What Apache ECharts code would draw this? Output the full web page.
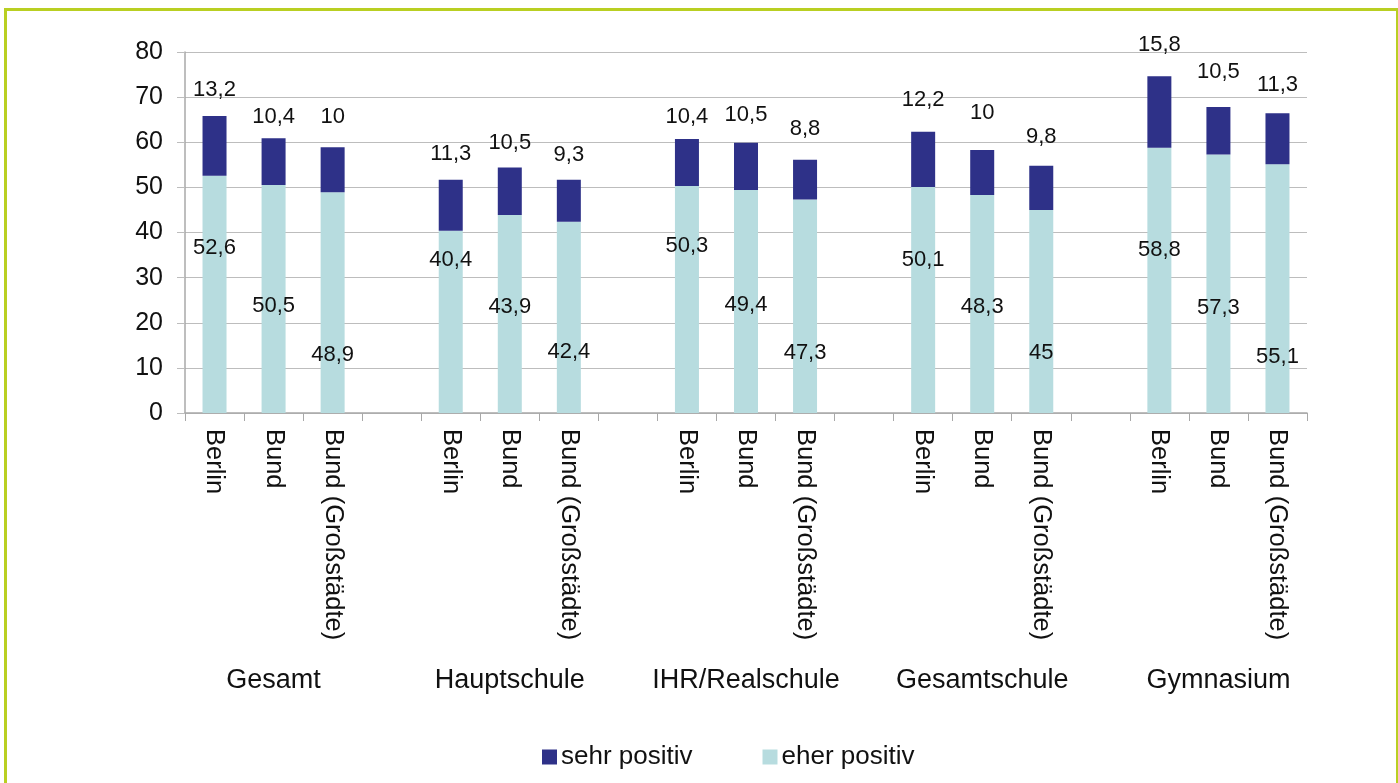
<!DOCTYPE html>
<html>
<head>
<meta charset="utf-8">
<script src="https://cdn.jsdelivr.net/npm/echarts@6/dist/echarts.min.js"></script>
<style>
  html, body { margin: 0; padding: 0; background: #ffffff; overflow: hidden; }
  #frame {
    position: absolute; left: 4px; top: 8px; width: 1389px; height: 800px;
    border: 3px solid #b9cf22; border-bottom: none;
  }
  #chart { position: absolute; left: 0; top: 0; width: 1398px; height: 783px; }
</style>
</head>
<body>
<div id="frame"></div>
<div id="chart"></div>
<script>
// School types and the three comparison regions per type
const groups = ['Gesamt', 'Hauptschule', 'IHR/Realschule', 'Gesamtschule', 'Gymnasium'];
const regions = ['Berlin', 'Bund', 'Bund (Großstädte)'];

// Share answering "sehr positiv" (stacked on top)
const sehrPositiv = [
  [13.2, 10.4, 10],
  [11.3, 10.5, 9.3],
  [10.4, 10.5, 8.8],
  [12.2, 10, 9.8],
  [15.8, 10.5, 11.3]
];
// Share answering "eher positiv" (bottom segment)
const eherPositiv = [
  [52.6, 50.5, 48.9],
  [40.4, 43.9, 42.4],
  [50.3, 49.4, 47.3],
  [50.1, 48.3, 45],
  [58.8, 57.3, 55.1]
];

// Height (in axis units) at which each value label sits
const sehrLabelLevel = [
  [71.6, 65.7, 65.7],
  [57.4, 59.9, 57.2],
  [65.7, 66.1, 63.0],
  [69.3, 66.5, 61.1],
  [81.6, 75.5, 72.7]
];
const eherLabelLevel = [
  [36.5, 23.7, 12.8],
  [33.9, 23.4, 13.5],
  [37.0, 23.9, 13.2],
  [33.9, 23.5, 13.2],
  [36.1, 23.2, 12.4]
];

const yTicks = { min: 0, max: 80, interval: 10 };

// Flatten groups into one category axis with an empty slot between groups
const cats = [], groupCats = [], sehrData = [], eherData = [], sehrLbl = [], eherLbl = [];
groups.forEach((g, gi) => {
  regions.forEach((r, ri) => {
    const idx = cats.length;
    cats.push(r);
    groupCats.push(ri === 1 ? g : '');
    sehrData.push(sehrPositiv[gi][ri]);
    eherData.push(eherPositiv[gi][ri]);
    sehrLbl.push([idx, sehrLabelLevel[gi][ri], sehrPositiv[gi][ri]]);
    eherLbl.push([idx, eherLabelLevel[gi][ri], eherPositiv[gi][ri]]);
  });
  if (gi < groups.length - 1) {
    cats.push('');
    groupCats.push('');
    sehrData.push('-');
    eherData.push('-');
  }
});

const fmt = v => String(v).replace('.', ',');
const FONT = '"Liberation Sans", Arial, sans-serif';
const TXT = '#111111';
const DARK = '#2e3188';
const LIGHT = '#b7dcdf';

const labelSeries = (name, data) => ({
  name: name,
  type: 'scatter',
  data: data,
  symbolSize: 0,
  clip: false,
  silent: true,
  z: 5,
  itemStyle: { opacity: 1, color: TXT },
  label: {
    show: true, position: 'inside',
    formatter: p => fmt(p.value[2]),
    color: TXT, fontSize: 22, fontFamily: FONT,
    textBorderWidth: 0, textBorderColor: 'transparent'
  },
  emphasis: { disabled: true }
});

const chart = echarts.init(document.getElementById('chart'), null, { renderer: 'canvas' });
chart.setOption({
  animation: false,
  backgroundColor: 'transparent',
  textStyle: { fontFamily: FONT },
  grid: { left: 185, right: 91, top: 52, bottom: 370, containLabel: false },
  legend: {
    data: ['sehr positiv', 'eher positiv'],
    left: 537, top: 739,
    icon: 'rect', itemWidth: 15, itemHeight: 15, itemGap: 70,
    textStyle: { color: TXT, fontSize: 26, fontFamily: FONT, padding: [0, 0, 0, -1] }
  },
  xAxis: [
    {
      type: 'category', data: cats, boundaryGap: true,
      axisLine: { lineStyle: { color: '#a8a8a8', width: 1.5 } },
      axisTick: { show: true, length: 8, interval: 0, lineStyle: { color: '#a8a8a8' } },
      axisLabel: {
        interval: 0, rotate: -90, margin: 16,
        color: TXT, fontSize: 25.5, fontFamily: FONT
      }
    },
    {
      type: 'category', data: groupCats, position: 'bottom', offset: 246,
      gridIndex: 0,
      axisLine: { show: false }, axisTick: { show: false },
      axisLabel: { interval: 0, margin: 8, color: TXT, fontSize: 27, fontFamily: FONT }
    }
  ],
  yAxis: {
    type: 'value', min: yTicks.min, max: yTicks.max, interval: yTicks.interval,
    axisLine: { show: true, lineStyle: { color: '#a8a8a8', width: 1.5 } },
    axisTick: { show: true, length: 8, lineStyle: { color: '#bdbdbd' } },
    axisLabel: { margin: 22, color: TXT, fontSize: 25, fontFamily: FONT },
    splitLine: { show: true, lineStyle: { color: '#bdbdbd', width: 1.2 } }
  },
  series: [
    {
      name: 'eher positiv', type: 'bar', stack: 'total', data: eherData,
      barWidth: 24, itemStyle: { color: LIGHT }
    },
    {
      name: 'sehr positiv', type: 'bar', stack: 'total', data: sehrData,
      barWidth: 24, itemStyle: { color: DARK }
    },
    labelSeries('sehr-label', sehrLbl),
    labelSeries('eher-label', eherLbl)
  ]
});
</script>
</body>
</html>
